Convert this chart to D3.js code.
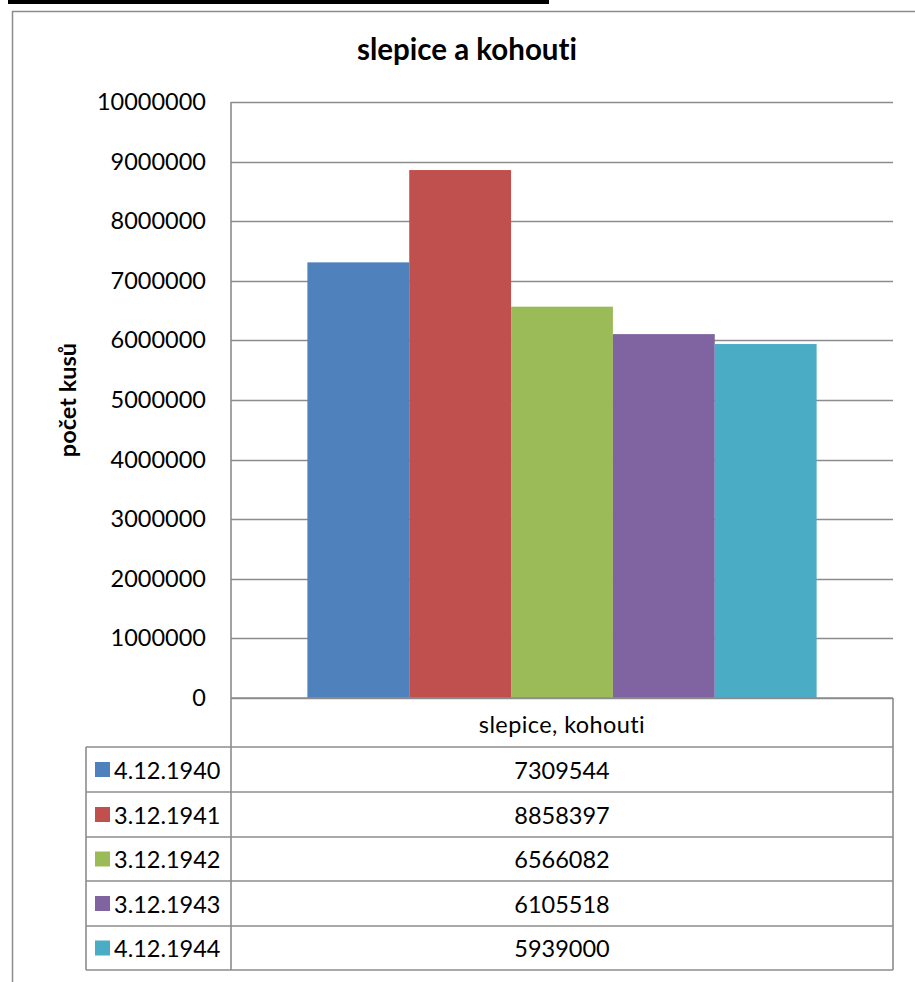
<!DOCTYPE html>
<html><head><meta charset="utf-8">
<script src="https://cdn.jsdelivr.net/npm/d3@7"></script>
<style>body{margin:0;background:#fff;} svg{display:block;font-family:Lato,"Open Sans",sans-serif;font-variant-ligatures:none;font-feature-settings:"liga" 0;}</style>
</head><body>
<script>
const title = "slepice a kohouti";
const yTitle = "počet kusů";
const category = "slepice, kohouti";
const seriesNames = ["4.12.1940","3.12.1941","3.12.1942","3.12.1943","4.12.1944"];
const values = [7309544, 8858397, 6566082, 6105518, 5939000];
const colors = ["#4F81BD","#C0504D","#9BBB59","#8064A2","#4BACC6"];
const yTicks = [0,1000000,2000000,3000000,4000000,5000000,6000000,7000000,8000000,9000000,10000000];

const W = 915, H = 982;
const svg = d3.select("body").append("svg").attr("width", W).attr("height", H);
const plot = {left: 231, right: 893, top: 102, bottom: 698};
const gray = "#8c8c8c";

// black bar at top
svg.append("rect").attr("x", 8).attr("y", 0).attr("width", 541).attr("height", 4).attr("fill", "#000");
// outer chart border
svg.append("path").attr("d", `M12.5,${H+2} V11.5 H${W+2}`).attr("fill","none").attr("stroke", gray).attr("stroke-width", 1.5);

const y = d3.scaleLinear().domain([0, 10000000]).range([plot.bottom, plot.top]);
const x0 = d3.scaleBand().domain([category]).range([plot.left, plot.right]);
const bw = x0.bandwidth() / 6.5;
const x1 = d3.scaleBand().domain(seriesNames)
  .range([x0(category) + 0.75 * bw, x0(category) + 5.75 * bw]);

// gridlines
svg.append("g").selectAll("line").data(yTicks).join("line")
  .attr("x1", plot.left).attr("x2", plot.right)
  .attr("y1", d => Math.round(y(d)) + 0.5).attr("y2", d => Math.round(y(d)) + 0.5)
  .attr("stroke", gray).attr("stroke-width", 1.3);

// y axis labels
const yAxis = d3.axisLeft(y).tickValues(yTicks).tickSize(0).tickPadding(25).tickFormat(d3.format("d"));
const ga = svg.append("g").attr("transform", `translate(${plot.left},0)`).call(yAxis);
ga.select(".domain").remove();
ga.selectAll("text").attr("font-size", 23.5).attr("fill", "#000").attr("font-family", "Lato");

// bars
svg.append("g").selectAll("rect").data(values).join("rect")
  .attr("x", (d, i) => x1(seriesNames[i]))
  .attr("width", x1.bandwidth())
  .attr("y", d => y(d))
  .attr("height", d => y(0) - y(d))
  .attr("fill", (d, i) => colors[i]);

// data table
const rowTops = [698, 747, 792, 837, 881, 926, 970];
const tleft = 86;
const tb = svg.append("g").attr("stroke", gray).attr("stroke-width", 1.6).attr("fill", "none");
tb.append("line").attr("x1", plot.left).attr("x2", plot.left).attr("y1", plot.top).attr("y2", rowTops[6]);
tb.append("line").attr("x1", plot.right).attr("x2", plot.right).attr("y1", rowTops[0]).attr("y2", rowTops[6]);
tb.append("line").attr("x1", tleft).attr("x2", tleft).attr("y1", rowTops[1]).attr("y2", rowTops[6]);
tb.selectAll(".h").data(rowTops).join("line")
  .attr("x1", (d, i) => i === 0 ? plot.left : tleft).attr("x2", plot.right)
  .attr("y1", d => d).attr("y2", d => d);

svg.append("text").attr("x", (plot.left + plot.right) / 2).attr("y", (rowTops[0] + rowTops[1]) / 2 + 1)
  .attr("text-anchor", "middle").attr("dominant-baseline", "central")
  .attr("font-size", 23.5).attr("letter-spacing", 0.4).text(category);

const rows = svg.append("g").selectAll("g").data(values).join("g");
rows.append("rect").attr("x", 95).attr("width", 15).attr("height", 15)
  .attr("y", (d, i) => (rowTops[i+1] + rowTops[i+2]) / 2 - 7.5)
  .attr("fill", (d, i) => colors[i]);
rows.append("text").attr("x", 114).attr("y", (d, i) => (rowTops[i+1] + rowTops[i+2]) / 2)
  .attr("dominant-baseline", "central").attr("font-size", 23.5).text((d, i) => seriesNames[i]);
rows.append("text").attr("x", (plot.left + plot.right) / 2).attr("y", (d, i) => (rowTops[i+1] + rowTops[i+2]) / 2)
  .attr("text-anchor", "middle").attr("dominant-baseline", "central").attr("font-size", 23.5).text(d => d);

// titles
svg.append("text").attr("x", 467).attr("y", 60).attr("text-anchor", "middle")
  .attr("font-weight", "bold").attr("font-size", 29.5).text(title);
svg.append("text").attr("transform", `translate(76,400) rotate(-90)`).attr("text-anchor", "middle")
  .attr("font-weight", "bold").attr("font-size", 23.5).text(yTitle);
</script>
</body></html>
